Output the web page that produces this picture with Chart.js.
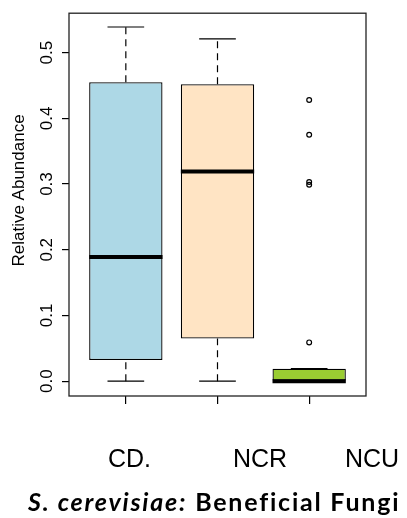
<!DOCTYPE html>
<html>
<head>
<meta charset="utf-8">
<script src="https://cdn.jsdelivr.net/npm/chart.js@4"></script>
<style>
  html, body { margin: 0; padding: 0; background: #fff; }
  #wrap { position: relative; width: 407px; height: 518px; overflow: hidden; }
  #chart { position: absolute; left: 0; top: 0; }
  .cat { position: absolute; top: 446px; font-family: "Liberation Sans", Arial, sans-serif; font-size: 25px; line-height: 1; color: #000; white-space: nowrap; transform: translateX(-50%); }
  #title { position: absolute; left: 28px; top: 489px; font-family: Lato, "Open Sans", sans-serif; font-weight: 700; font-size: 25px; line-height: 1; color: #000; white-space: nowrap; }
  #title i { font-style: italic; }
</style>
</head>
<body>
<div id="wrap">
  <canvas id="chart" width="407" height="518"></canvas>
  <div id="title"><i>S. cerevisiae:</i> Beneficial Fungi</div>
</div>
<script>
// data
const categories = ["CD.", "NCR", "NCU"];
const whiskerLow = [0, 0, 0];
const q1 = [0.032, 0.065, 0];
const medians = [0.189, 0.319, 0];
const q3 = [0.455, 0.452, 0.019];
const whiskerHigh = [0.539, 0.521, 0.019];
const outliers = [[], [], [0.428, 0.375, 0.303, 0.299, 0.059]];
const yTicks = [0, 0.1, 0.2, 0.3, 0.4, 0.5];

const boxColors = ["#ADD8E6", "#FFE4C4", "#9ACD32"];
const labelCenters = [129.5, 260, 372];

const xs = categories.map((_c, i) => i + 1);

// category labels under the plot
const wrap = document.getElementById("wrap");
categories.forEach((c, i) => {
    const d = document.createElement("div");
    d.className = "cat";
    d.style.left = labelCenters[i] + "px";
    d.textContent = c;
    wrap.appendChild(d);
});
// spread the caption to the width it has in the picture
const title = document.getElementById("title");
const nChars = title.textContent.length;
title.style.letterSpacing = ((372 - title.getBoundingClientRect().width) / nChars) + "px";

const whiskerPts = [];
const staplePts = [];
const medianPts = [];
xs.forEach((x, i) => {
    whiskerPts.push({x: x, y: q3[i]}, {x: x, y: whiskerHigh[i]}, {x: x, y: null});
    whiskerPts.push({x: x, y: whiskerLow[i]}, {x: x, y: q1[i]}, {x: x, y: null});
    staplePts.push({x: x - 0.2, y: whiskerHigh[i]}, {x: x + 0.2, y: whiskerHigh[i]}, {x: x, y: null});
    staplePts.push({x: x - 0.2, y: whiskerLow[i]}, {x: x + 0.2, y: whiskerLow[i]}, {x: x, y: null});
    medianPts.push({x: x - 0.4, y: medians[i]}, {x: x + 0.4, y: medians[i]}, {x: x, y: null});
});
const outlierPts = [];
outliers.forEach((list, i) => list.forEach(v => outlierPts.push({x: xs[i], y: v})));

const frame = {
    id: "frame",
    afterDatasetsDraw(chart) {
        const {ctx, chartArea: a} = chart;
        ctx.save();
        ctx.strokeStyle = "#222";
        ctx.lineWidth = 1.3;
        ctx.strokeRect(a.left, a.top, a.right - a.left, a.bottom - a.top);
        // y axis title
        ctx.translate(19.5, a.top + (a.bottom - a.top) * 0.463);
        ctx.rotate(-Math.PI / 2);
        ctx.font = '17px "Liberation Sans", Arial, sans-serif';
        ctx.fillStyle = "#000";
        ctx.textAlign = "center";
        ctx.textBaseline = "middle";
        ctx.fillText("Relative Abundance", 0, 0);
        ctx.restore();
    }
};

new Chart(
    document.getElementById("chart"),
    {
        type: 'bar',
        data: {
            datasets: [
                {
                    type: 'scatter',
                    data: outlierPts,
                    pointRadius: 2.4,
                    pointBorderWidth: 1.2,
                    pointBackgroundColor: 'rgba(0,0,0,0)',
                    pointBorderColor: '#000',
                    order: 0
                },
                {
                    type: 'line',
                    data: medianPts,
                    borderColor: '#000',
                    borderWidth: 4,
                    borderCapStyle: 'butt',
                    pointRadius: 0,
                    spanGaps: false,
                    order: 1
                },
                {
                    type: 'line',
                    data: staplePts,
                    borderColor: '#000',
                    borderWidth: 1.2,
                    pointRadius: 0,
                    spanGaps: false,
                    order: 2
                },
                {
                    type: 'line',
                    data: whiskerPts,
                    borderColor: '#000',
                    borderWidth: 1.2,
                    borderDash: [7, 5],
                    pointRadius: 0,
                    spanGaps: false,
                    order: 3
                },
                {
                    type: 'bar',
                    data: xs.map((x, i) => ({x: x, y: [q1[i], q3[i]]})),
                    backgroundColor: boxColors,
                    borderColor: '#000',
                    borderWidth: 1.3,
                    borderSkipped: false,
                    barPercentage: 0.8,
                    categoryPercentage: 1,
                    order: 4
                }
            ]
        },
        options: {
            responsive: false,
            animation: false,
            layout: {padding: {left: 0, top: 9, right: 41, bottom: 0}},
            plugins: {legend: {display: false}, tooltip: {enabled: false}},
            scales: {
                x: {
                    type: 'linear',
                    min: 0.38,
                    max: 3.62,
                    offset: false,
                    grid: {display: true, offset: false, drawOnChartArea: false, drawTicks: true, tickLength: 8, color: '#000', lineWidth: 1.2},
                    border: {display: false},
                    ticks: {display: false},
                    afterBuildTicks: scale => { scale.ticks = xs.map(v => ({value: v})); },
                    afterFit: scale => { scale.height = 122; }
                },
                y: {
                    min: -0.0226,
                    max: 0.560,
                    grid: {display: true, drawOnChartArea: false, drawTicks: true, tickLength: 7, color: '#000', lineWidth: 1.2},
                    border: {display: false},
                    ticks: {
                        color: '#000',
                        font: {family: '"Liberation Sans", Arial, sans-serif', size: 17},
                        minRotation: 90,
                        maxRotation: 90,
                        crossAlign: 'center',
                        padding: 3,
                        callback: v => v.toFixed(1)
                    },
                    afterBuildTicks: scale => { scale.ticks = yTicks.map(v => ({value: v})); },
                    afterFit: scale => { scale.width = 69; }
                }
            }
        },
        plugins: [frame]
    }
);
</script>
</body>
</html>
